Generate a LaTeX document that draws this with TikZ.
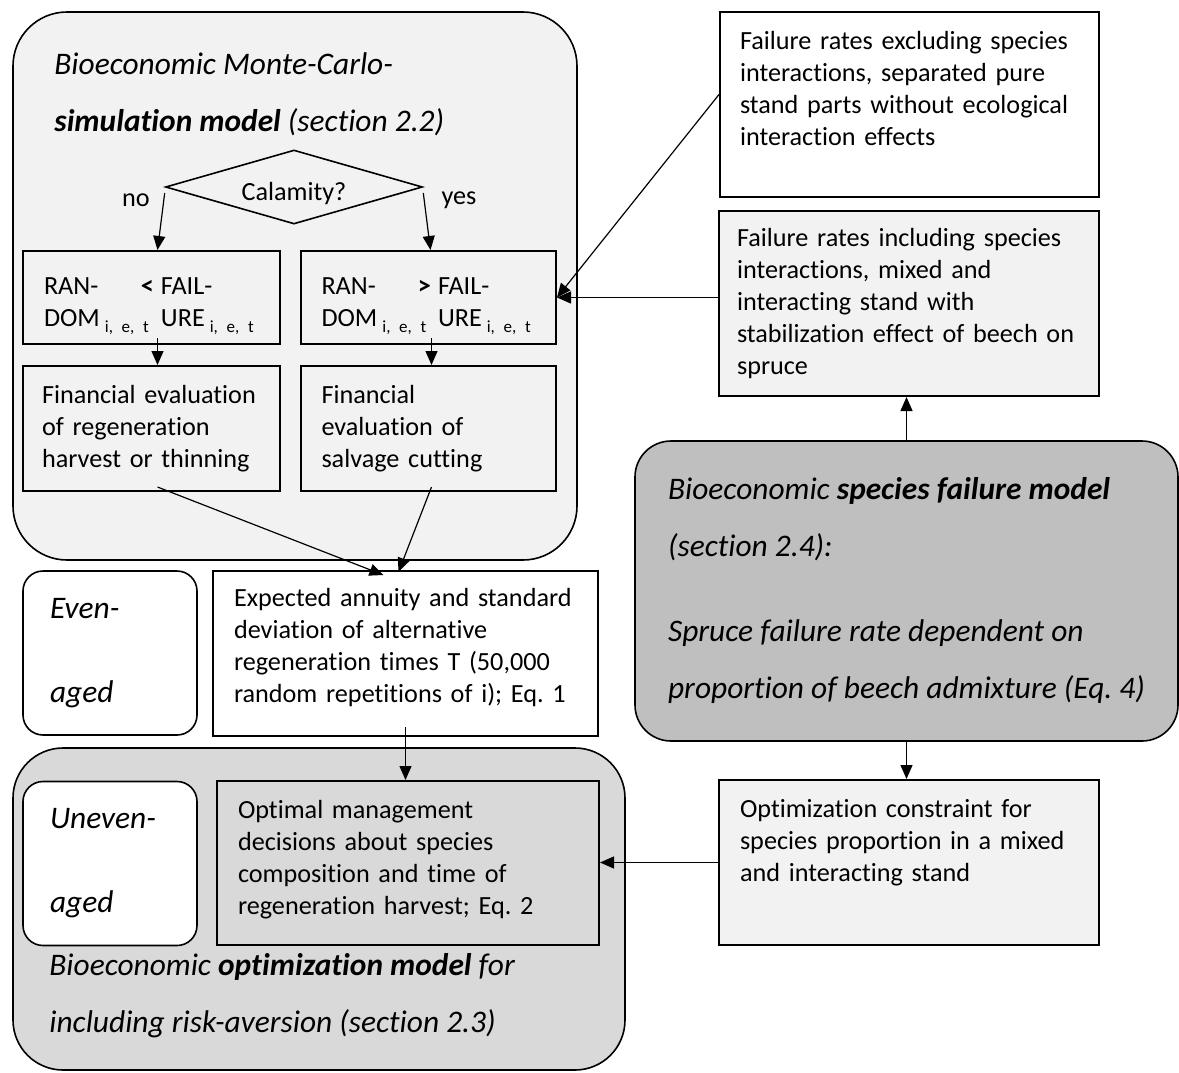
\documentclass[tikz,border=0pt]{standalone}
\usepackage{fontspec}
\setmainfont{Carlito}[Ligatures={TeX,NoCommon}]
\usepackage{xcolor}
\usetikzlibrary{arrows.meta, positioning, shapes.geometric}

\definecolor{lightfill}{HTML}{F2F2F2}
\definecolor{midfill}{HTML}{D9D9D9}
\definecolor{darkfill}{HTML}{BFBFBF}
\hyphenpenalty=10000
\frenchspacing

\begin{document}
\begin{tikzpicture}[x=0.5pt, y=-0.5pt,
    font=\fontsize{13.1}{16}\selectfont,
    box/.style={
        rectangle, draw, line width=1pt, align=left,
        inner xsep=10pt, inner ysep=0pt
    },
    group/.style={rectangle, draw, line width=0.8pt},
    headfont/.style={font=\fontsize{15.7}{28.5}\selectfont\itshape},
    heading/.style={headfont, align=left, inner sep=0pt},
    side/.style={
        box, fill=white, rounded corners=10pt, line width=0.8pt, headfont,
        inner xsep=13.5pt, text width=60pt, minimum width=87pt, minimum height=82pt
    },
    decision/.style={diamond, draw, line width=0.8pt, aspect=3.5, inner sep=0pt,
        minimum width=128.5pt, minimum height=37pt},
    arrow/.style={-{Triangle[length=7pt, width=6pt]}, line width=0.6pt}
]
\useasboundingbox (0,0) rectangle (1179,1072);

% Monte-Carlo simulation block
\node[group, fill=lightfill, rounded corners=27pt, minimum width=282pt, minimum height=274pt] (mc) at (295,286) {};
\node[heading, anchor=north west] (mctitle) at (54,52)
    {Bioeconomic Monte-Carlo-\\\textbf{simulation model} (section 2.2)};
\node[decision] (calamity) at (294,187) {\raisebox{-3.5pt}[\height][\depth]{Calamity?}};
\node (no) at (136,200) {no};
\node (yes) at (459,200) {yes};

% Random draw versus failure rate
\node[box, fill=lightfill, inner xsep=10.5pt, text width=107.5pt, minimum width=128.5pt, minimum height=46.5pt] (rand1) at (151.5,297.5)
    {\raisebox{-3.5pt}[\height][\depth]{\begin{tabular}{@{}p{58.5pt}@{}l@{}}
     RAN-\hfill\textbf{<}\hspace*{3.5pt} & FAIL-\\
     DOM\hspace{2.5pt}\raisebox{-3pt}{\fontsize{8.5}{9}\selectfont i, e, t} & URE\hspace{2.5pt}\raisebox{-3pt}{\fontsize{8.5}{9}\selectfont i, e, t}
     \end{tabular}}};
\node[box, fill=lightfill, inner xsep=10.25pt, text width=107pt, minimum width=127.5pt, minimum height=46.5pt] (rand2) at (428.5,297.5)
    {\raisebox{-3.5pt}[\height][\depth]{\begin{tabular}{@{}p{58.25pt}@{}l@{}}
     RAN-\hfill\textbf{>}\hspace*{3.5pt} & FAIL-\\
     DOM\hspace{2.5pt}\raisebox{-3pt}{\fontsize{8.5}{9}\selectfont i, e, t} & URE\hspace{2.5pt}\raisebox{-3pt}{\fontsize{8.5}{9}\selectfont i, e, t}
     \end{tabular}}};

% Financial evaluation
\node[box, fill=lightfill, inner xsep=9.5pt, text width=109.5pt, minimum width=128.5pt, minimum height=62.5pt] (fin1) at (151.5,428.5)
    {Financial evaluation\\of regeneration\\harvest or thinning};
\node[box, fill=lightfill, inner xsep=10.25pt, text width=107pt, minimum width=127.5pt, minimum height=62.5pt] (fin2) at (428.5,428.5)
    {Financial\\evaluation of\\salvage cutting};

% Failure rates
\node[box, fill=white, text width=169.5pt, minimum width=189.5pt, minimum height=92.5pt] (fail1) at (909.5,104.5)
    {Failure rates excluding species\\interactions, separated pure\\stand parts without ecological\\interaction effects\\\mbox{}};
\node[box, fill=lightfill, inner xsep=9pt, text width=172pt, minimum width=190pt, minimum height=92.5pt] (fail2) at (909,303.5)
    {Failure rates including species\\interactions, mixed and\\interacting stand with\\stabilization effect of beech on\\spruce};

% Species failure model
\node[group, fill=darkfill, rounded corners=18pt, minimum width=271.5pt, minimum height=150pt, align=left, headfont] (species) at (906.5,591)
    {Bioeconomic \textbf{species failure model}\\(section 2.4):\\[14pt]Spruce failure rate dependent on\\proportion of beech admixture (Eq. 4)};
\node[box, fill=lightfill, inner xsep=10.5pt, text width=169pt, minimum width=190pt, minimum height=82.5pt] (constraint) at (909,862.5)
    {Optimization constraint for\\species proportion in a mixed\\and interacting stand\\[6pt]\mbox{}};

% Even-aged results
\node[side] (even) at (110,653) {Even-\\[13.5pt]aged};
\node[box, fill=white, inner xsep=10.5pt, text width=171.5pt, minimum width=192.5pt, minimum height=82.5pt] (annuity) at (405.5,653.5)
    {Expected annuity and standard\\deviation of alternative\\regeneration times T (50,000\\random repetitions of i); Eq. 1\\[-8pt]\mbox{}};

% Optimization model block
\node[group, fill=midfill, rounded corners=25pt, minimum width=306pt, minimum height=161pt] (om) at (319,909) {};
\node[side] (uneven) at (110,863.5) {Uneven-\\[13.5pt]aged};
\node[box, fill=midfill, inner xsep=10.5pt, text width=170pt, minimum width=191pt, minimum height=82pt] (optimal) at (408,863)
    {Optimal management\\decisions about species\\composition and time of\\regeneration harvest; Eq. 2\\[-10pt]\mbox{}};
\node[heading, anchor=north west] (omtitle) at (49,953)
    {Bioeconomic \textbf{optimization model} for\\including risk-aversion (section 2.3)};

% Arrows
\draw[arrow] ([yshift=-3pt]calamity.west) -- ([xshift=3pt]rand1.north);
\draw[arrow] ([yshift=-3pt]calamity.east) -- ([xshift=1pt]rand2.north);
\draw[arrow] ([xshift=3pt, yshift=3.5pt]rand1.south) -- ([xshift=3pt]fin1.north);
\draw[arrow] ([xshift=1.5pt, yshift=3.5pt]rand2.south) -- ([xshift=1.5pt]fin2.north);
\draw[arrow] ([xshift=3pt, yshift=2.5pt]fin1.south) -- ([xshift=-11pt, yshift=-2.5pt]annuity.north);
\draw[arrow] ([xshift=1.5pt, yshift=2.5pt]fin2.south) -- ([xshift=-3.5pt, yshift=-1pt]annuity.north);
\draw[arrow] ([yshift=5pt]annuity.south) -- (annuity.south |- optimal.north);
\draw[arrow] (fail2.west |- rand2.east) -- (rand2.east);
\draw[arrow] ([yshift=5pt]fail1.west) -- (rand2.east);
\draw[arrow] (species.north) -- (species.north |- fail2.south);
\draw[arrow] (species.south) -- (species.south |- constraint.north);
\draw[arrow] (constraint.west) -- (constraint.west -| optimal.east);

\end{tikzpicture}
\end{document}
